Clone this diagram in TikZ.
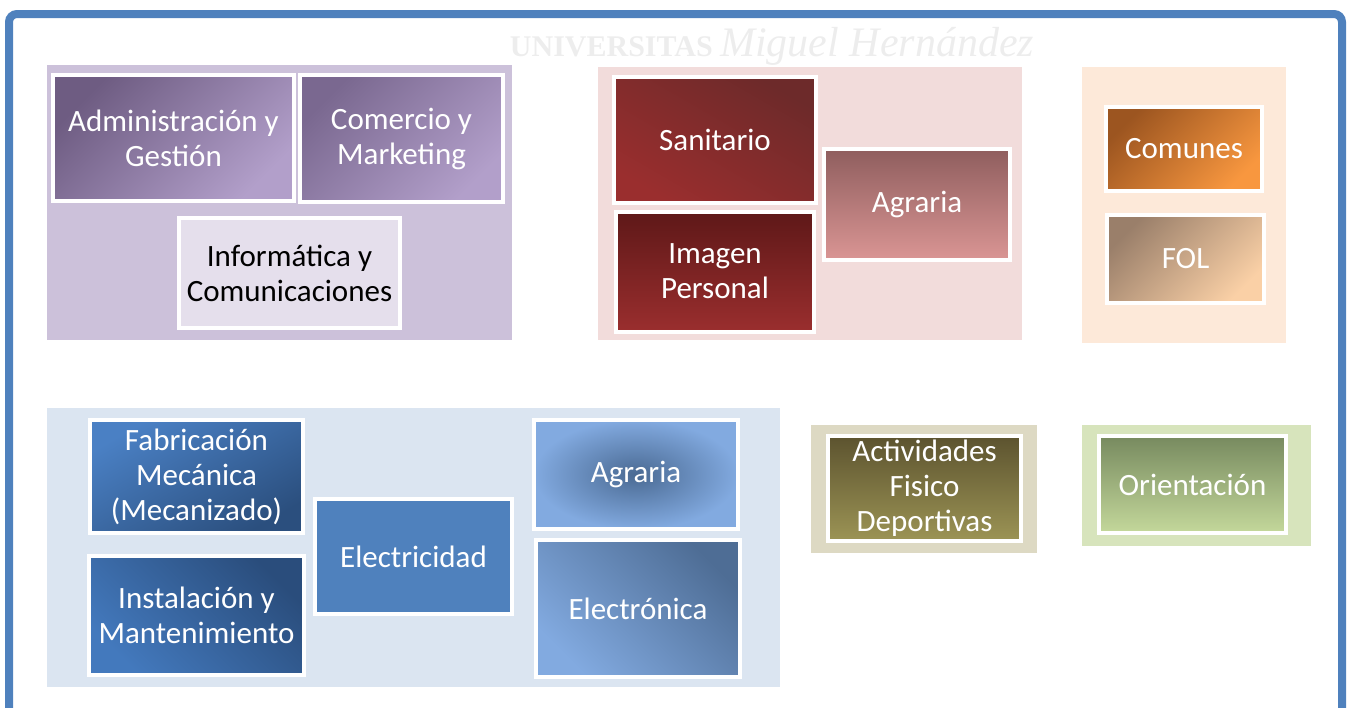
\documentclass[tikz,border=0pt]{standalone}
\usepackage{fontspec}
\setmainfont{Carlito}
\newfontfamily\markfont{Liberation Serif}
\usepackage{tikz}
\usetikzlibrary{shadings}

\definecolor{frameblue}{HTML}{4F81BD}
\definecolor{purplebg}{HTML}{CCC1DA}
\definecolor{redbg}{HTML}{F2DCDB}
\definecolor{orangebg}{HTML}{FDE9D9}
\definecolor{bluebg}{HTML}{DBE5F1}
\definecolor{tanbg}{HTML}{DDD9C3}
\definecolor{greenbg}{HTML}{D7E4BC}
% tile shades
\definecolor{purpledark}{HTML}{6E5C82}
\definecolor{purplelight}{HTML}{B29FCA}
\definecolor{purplemid}{HTML}{7A6890}
\definecolor{lilac}{HTML}{E5DFEC}
\definecolor{reddark}{HTML}{6D2A2A}
\definecolor{redmid}{HTML}{9A2E2E}
\definecolor{redblack}{HTML}{5E1818}
\definecolor{redbrown}{HTML}{8F5E5E}
\definecolor{redpink}{HTML}{DA9594}
\definecolor{orangedark}{HTML}{9C5520}
\definecolor{orangelight}{HTML}{F8973F}
\definecolor{foldark}{HTML}{9A7F6A}
\definecolor{follight}{HTML}{FAD0A6}
\definecolor{bluelight}{HTML}{4A80C4}
\definecolor{bluedark}{HTML}{2B4F7E}
\definecolor{bluedeep}{HTML}{2A4D7C}
\definecolor{bluesoft}{HTML}{4379BD}
\definecolor{bluecore}{HTML}{4A6A93}
\definecolor{bluesky}{HTML}{82AAE0}
\definecolor{bluegrey}{HTML}{4E6D95}
\definecolor{olivedark}{HTML}{5C532F}
\definecolor{olivelight}{HTML}{9C9455}
\definecolor{greendark}{HTML}{778A5F}
\definecolor{greenlight}{HTML}{C4D89B}

\tikzset{
  group/.style={draw=none},
  tile/.style={draw=white, line width=4pt, inner sep=1pt, align=center,
    text=white, font=\fontsize{31}{35}\selectfont},
}

\begin{document}
\begin{tikzpicture}[x=1pt,y=-1pt]
        \useasboundingbox (0,0) rectangle (1351,707);
        \clip (0,0) rectangle (1351,707);
        % Draw the outer frame
        \draw[frameblue, line width=8pt, rounded corners=8pt] (9,14) rectangle (1342,740);
        \node[text=black!7, font=\markfont] (mark) at (772,46)
          {\fontsize{30}{30}\selectfont\bfseries UNIVERSITAS \fontsize{42}{42}\selectfont\itshape\mdseries Miguel Hernández};

        % Draw the group backgrounds
        \fill[group, purplebg] (47,65) rectangle (512,340);
        \fill[group, redbg] (598,67) rectangle (1022,340);
        \fill[group, orangebg] (1082,67) rectangle (1286,343);
        \fill[group, bluebg] (47,408) rectangle (780,687);
        \fill[group, tanbg] (811,425) rectangle (1037,553);
        \fill[group, greenbg] (1082,425) rectangle (1311,546);

        % Purple group
        \node[tile, minimum width=241pt, minimum height=126pt, top color=purpledark, bottom color=purplelight, shading angle=45] (admin) at (173.5,138) {Administración y\\Gestión};
        \node[tile, minimum width=203pt, minimum height=127pt, top color=purplemid, bottom color=purplelight, shading angle=45] (comercio) at (401.5,138.5) {Comercio y\\Marketing};
        \node[tile, minimum width=221pt, minimum height=110pt, fill=lilac, text=black] (informatica) at (289.5,273) {Informática y\\Comunicaciones};

        % Red group
        \node[tile, minimum width=202pt, minimum height=126pt, top color=reddark, bottom color=redmid, shading angle=-30] (sanitario) at (715,140) {Sanitario};
        \node[tile, minimum width=198pt, minimum height=120pt, top color=redblack, bottom color=redmid] (imagen) at (715,271.5) {Imagen\\Personal};
        \node[tile, minimum width=186pt, minimum height=111pt, top color=redbrown, bottom color=redpink] (agrariared) at (917,204.5) {Agraria};

        % Orange group
        \node[tile, minimum width=156pt, minimum height=84pt, top color=orangedark, bottom color=orangelight, shading angle=45] (comunes) at (1184,149) {Comunes};
        \node[tile, minimum width=157pt, minimum height=88pt, top color=foldark, bottom color=follight, shading angle=45] (fol) at (1185.5,259) {FOL};

        % Blue group
        \node[tile, minimum width=213pt, minimum height=113pt, top color=bluelight, bottom color=bluedark, shading angle=30] (fabricacion) at (196.5,476.5) {Fabricación\\Mecánica\\(Mecanizado)};
        \node[tile, minimum width=215pt, minimum height=119pt, top color=bluedeep, bottom color=bluesoft, shading angle=-45] (instalacion) at (196.5,615.5) {Instalación y\\Mantenimiento};
        \node[tile, minimum width=197pt, minimum height=115pt, fill=frameblue] (electricidad) at (413.5,556.5) {Electricidad};
        \node[tile, minimum width=204pt, minimum height=109pt, inner color=bluecore, outer color=bluesky] (agrariablue) at (636,474.5) {Agraria};
        \node[tile, minimum width=204pt, minimum height=137pt, top color=bluegrey, bottom color=bluesky, shading angle=-45] (electronica) at (638,608.5) {Electrónica};

        % Tan and green groups
        \node[tile, minimum width=193pt, minimum height=105pt, top color=olivedark, bottom color=olivelight] (actividades) at (924.5,488.5) {Actividades\\Fisico\\Deportivas};
        \node[tile, minimum width=187pt, minimum height=97pt, top color=greendark, bottom color=greenlight] (orientacion) at (1192.5,484.5) {Orientación};
    \end{tikzpicture}
\end{document}
